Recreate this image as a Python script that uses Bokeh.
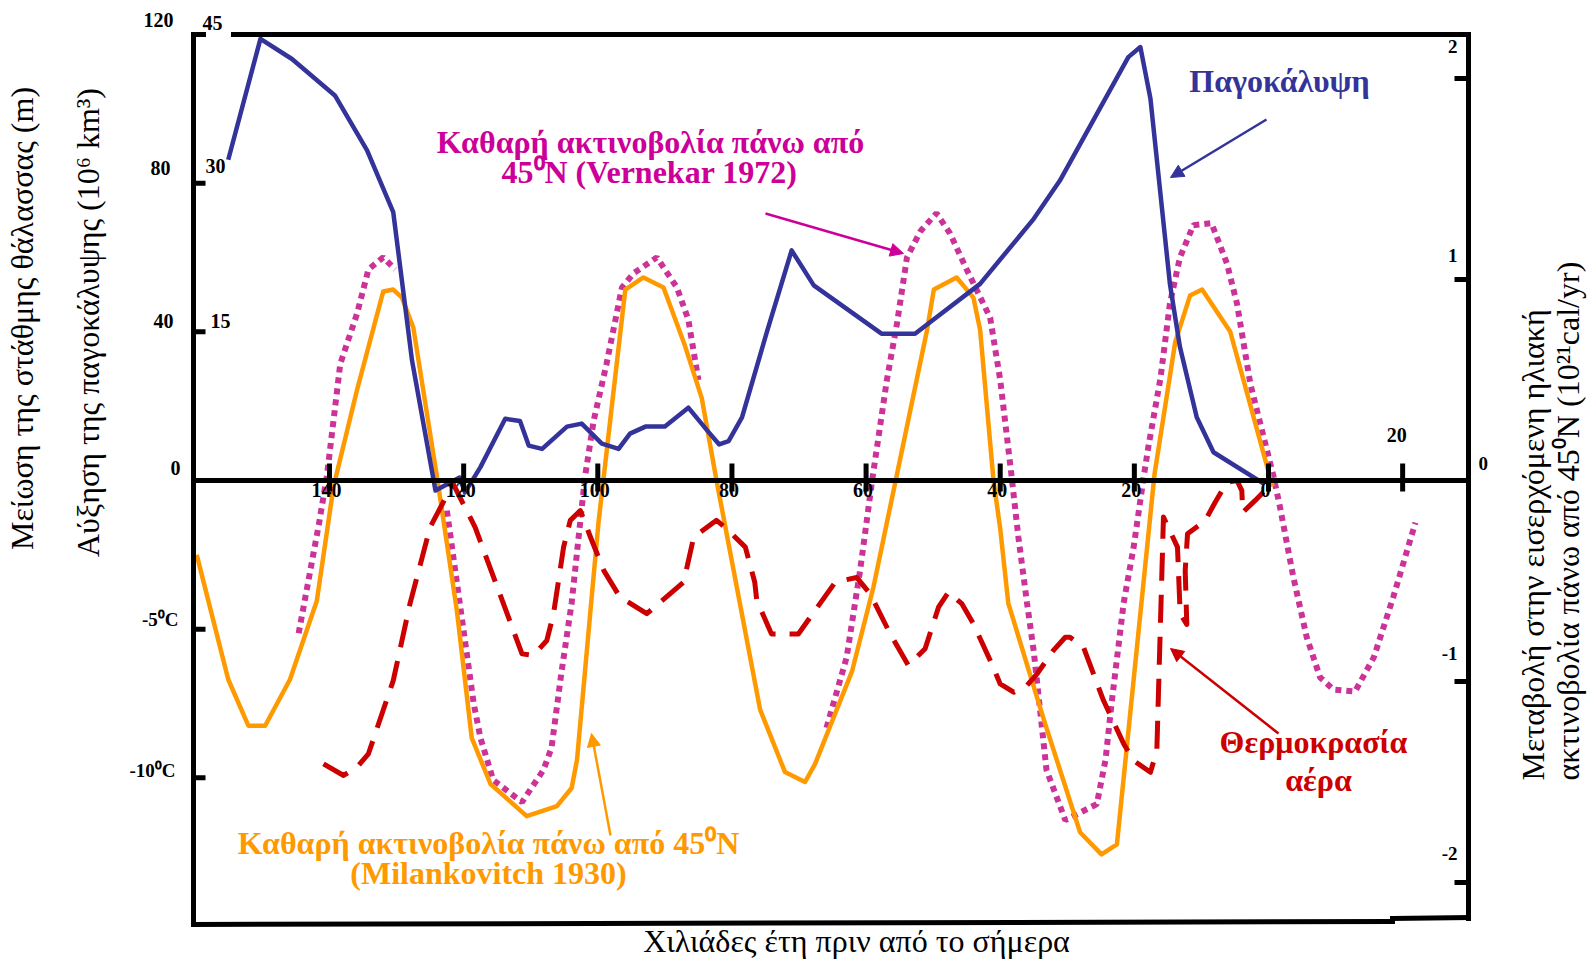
import math
from bokeh.plotting import figure
from bokeh.models import Range1d, Label, Arrow, NormalHead
from bokeh.core.properties import value
from bokeh.embed import file_html
from bokeh.resources import INLINE

nan = float("nan")

# ---------------- data (thousand years before present) ----------------
# Ice cover, plotted on the sea-level scale (m)
ice_kyr = [155.1, 150.3, 145.6, 139.2, 134.4, 130.5, 127.7, 124.2, 120.6, 119.8, 117.5,
           113.8, 111.6, 110.3, 108.3, 104.6, 102.4, 99.4, 96.9, 95.2, 92.9, 90.0, 86.5,
           83.7, 81.9, 80.5, 78.5, 74.8, 71.1, 67.8, 57.7, 52.7, 43.0, 35.0, 31.1, 20.9,
           19.1, 17.6, 14.7, 13.2, 10.7, 8.2, 0.6]
ice_sea = [86.3, 118.8, 113.4, 103.6, 88.8, 72.2, 32.3, -2.7, 0.8, -3.2, 3.6,
           16.6, 16.0, 9.4, 8.5, 14.5, 15.3, 9.9, 8.5, 12.6, 14.5, 14.5, 19.6,
           13.5, 9.7, 10.6, 17.0, 39.9, 61.9, 52.5, 39.5, 39.5, 52.9, 70.4, 80.7, 113.9,
           116.6, 102.7, 52.9, 35.9, 17.0, 7.6, -1.0]

# Net radiation above 45N (Milankovitch 1930), 10^21 cal/yr
mil_kyr = [159.8, 155.1, 152.1, 149.6, 145.9, 141.9, 139.4, 135.9, 132.0, 130.5, 129.2,
           127.5, 123.8, 121.0, 118.8, 116.0, 110.6, 106.1, 103.9, 103.1, 101.1, 99.9,
           97.7, 95.9, 93.2, 90.2, 87.0, 84.5, 82.3, 75.8, 72.1, 69.1, 67.6, 62.1, 58.9,
           55.4, 50.9, 49.9, 46.5, 44.0, 43.0, 41.0, 40.0, 38.8, 33.5, 28.1, 24.9, 22.6,
           17.0, 13.9, 11.7, 9.9, 5.7, -0.6]
mil_rad = [-0.37, -0.99, -1.22, -1.22, -0.99, -0.60, -0.03, 0.45, 0.94, 0.95, 0.91,
           0.76, -0.02, -0.65, -1.28, -1.51, -1.67, -1.62, -1.53, -1.39, -0.65, -0.21,
           0.43, 0.95, 1.01, 0.96, 0.67, 0.41, 0.0, -1.14, -1.45, -1.50, -1.41, -0.95, -0.53,
           0.03, 0.75, 0.95, 1.01, 0.91, 0.75, 0.0, -0.24, -0.61, -1.19, -1.75, -1.86, -1.81,
           0.03, 0.69, 0.92, 0.95, 0.74, -0.03]

# Net radiation above 45N (Vernekar 1972), 10^21 cal/yr  (nan = gap in the curve)
ver_kyr = [144.6, 141.6, 140.4, 138.4, 135.9, 134.2, 132.0, 130.2, nan,
           122.5, 118.5, 117.5, 115.6, 111.3, 108.1, 106.9, 105.4, 103.9, 102.6, 101.9,
           100.6, 98.7, 96.4, 94.7, 91.2, 88.2, 86.5, 85.0, nan,
           65.9, 62.9, 60.9, 59.1, 56.9, 55.4, 53.9, 51.9, 49.5, 47.5, 45.0, 41.5, 40.0,
           38.3, 37.3, 36.0, 35.0, 33.1, 30.3, 25.6, 24.3, 23.4, 21.6, 20.1, 18.6, 17.9,
           16.1, 14.7, 13.2, 11.2, 8.5, 6.2, 4.7, 2.7, -0.75, -1.7, -3.7, -5.7, -7.7,
           -9.7, -12.9, -15.7, -18.6, -21.9]
ver_rad = [-0.76, -0.22, 0.02, 0.58, 0.83, 1.05, 1.11, 1.05, nan,
           -0.15, -1.11, -1.28, -1.49, -1.60, -1.44, -1.33, -0.95, -0.61, -0.20, 0.02,
           0.30, 0.58, 0.96, 1.03, 1.11, 0.96, 0.80, 0.50, nan,
           -1.23, -0.88, -0.45, 0.0, 0.50, 0.78, 1.11, 1.24, 1.33, 1.23, 1.05, 0.81, 0.50,
           0.02, -0.28, -0.61, -0.85, -1.44, -1.69, -1.61, -1.39, -1.11, -0.61, -0.33, 0.02, 0.17,
           0.51, 0.88, 1.11, 1.27, 1.28, 1.08, 0.88, 0.48, 0.02, -0.13, -0.48, -0.78, -0.98,
           -1.04, -1.05, -0.88, -0.58, -0.21]

# Air temperature (deg C)
temp_kyr = [140.9, 137.9, 135.9, 134.2, 130.5, 128.0, 125.0, 123.3, 121.6, 118.3, 111.3,
            109.6, 107.6, 106.6, 105.1, 104.1, 102.6, 101.1, 99.1, 96.7, 92.7, 87.2, 85.7,
            82.3, 80.8, 78.0, 76.6, 76.3, 74.1, 70.1, 64.6, 61.4, 59.4, 56.4, 53.7, 51.2,
            49.2, 47.7, 45.7, 44.0, 41.5, 40.0, 38.0, 36.0, 34.5, 32.1, 30.3, 29.6, 27.6,
            24.6, 21.6, 20.1, 17.6, 16.65, 15.66, 13.57, 13.17, 12.18, 12.42, 12.07, 9.44,
            7.95, 6.2, 4.7, 3.98, 3.83, 1.98, 0.75]
temp_c = [-9.53, -9.92, -9.64, -9.19, -6.73, -4.14, -1.57, -0.84, -0.10, -1.57, -5.83,
          -5.88, -5.38, -4.48, -2.24, -1.34, -1.01, -1.90, -3.03, -3.92, -4.48, -3.42, -1.90,
          -1.34, -1.62, -2.24, -3.42, -4.03, -5.16, -5.16, -3.42, -3.26, -3.81, -5.16, -6.22, -5.66,
          -4.26, -3.75, -4.15, -4.82, -6.05, -6.84, -7.12, -6.89, -6.50, -5.72, -5.27, -5.27, -5.60,
          -7.40, -8.85, -9.42, -9.81, -9.08, -1.23, -2.24, -4.48, -4.84, -3.03, -1.79, -1.35,
          -0.73, -0.06, 0.0, -0.34, -1.07, -0.67, -0.39]

# ticks and tick labels
x_ticks = [140, 120, 100, 80, 60, 40, 20, 0, -20]
x_tick_labels = ["140", "120", "100", "80", "60", "40", "20", "0", "20"]
sea_ticks = [120, 80, 40, 0]
sea_tick_labels = ["120", "80", "40", "0"]
temp_ticks = [-5, -10]
temp_tick_labels = ["-5\u2070C", "-10\u2070C"]
ice_tick_labels = ["45", "30", "15"]
rad_ticks = [2, 1, 0, -1, -2]
rad_tick_labels = ["2", "1", "0", "-1", "-2"]

# ---------------- layout (page pixels) ----------------
W, H = 1594, 962
FL, FR, FT, FB = 193, 1468, 34, 921
X0, KX = 1268.0, 6.707      # pixel of 0 kyr, pixels per kyr
Y0, KR = 480.0, 201.0       # pixel of zero line, pixels per 10^21 cal/yr
KS = 3.717                  # pixels per metre of sea level
KT = KS * 8.0               # pixels per degree C (1 C = 8 m on the left scale)
BSHIFT = 0.38               # label baseline correction (fraction of font size)

def dx(X):
    return (X0 - X) / KX

def dy(Y):
    return (Y0 - Y) / KR

FONT = "Liberation Serif"

p = figure(width=W, height=H, title=None,
           x_range=Range1d(dx(0), dx(W)), y_range=Range1d(dy(H), dy(0)),
           x_axis_type=None, y_axis_type=None,
           output_backend="svg", toolbar_location=None,
           min_border_left=0, min_border_right=0, min_border_top=0, min_border_bottom=0)
p.extra_y_ranges = {
    "sea": Range1d((Y0 - H) / KS, Y0 / KS),
    "temp": Range1d((Y0 - H) / KT, Y0 / KT),
}
p.outline_line_color = None
p.background_fill_color = "white"
p.border_fill_color = "white"

# ---------------- curves ----------------
p.line(ver_kyr, ver_rad, line_color="#CC3399", line_width=6, line_dash="6 5", line_cap="butt")
p.line(mil_kyr, mil_rad, line_color="#FF9900", line_width=4.5, line_join="round")
p.line(ice_kyr, ice_sea, y_range_name="sea", line_color="#333399", line_width=4.5, line_join="round")
p.line(temp_kyr, temp_c, y_range_name="temp", line_color="#CC0000", line_width=5,
       line_dash="28 14", line_join="round")

# ---------------- frame, zero line and ticks ----------------
K = "black"
p.segment(x0=[dx(FL), dx(FR), dx(233), dx(FL), dx(FL), dx(1392)],
          y0=[dy(FT), dy(FT), dy(FT), dy(FT), dy(924), dy(918)],
          x1=[dx(FL), dx(FR), dx(FR), dx(203), dx(1392), dx(FR)],
          y1=[dy(924), dy(918), dy(FT), dy(FT), dy(921), dy(917)],
          line_color=K, line_width=5, line_cap="square")
p.segment(x0=[dx(FL)], y0=[0], x1=[dx(FR)], y1=[0], line_color=K, line_width=5)
p.segment(x0=x_ticks, y0=[dy(463)] * len(x_ticks), x1=x_ticks, y1=[dy(491)] * len(x_ticks),
          line_color=K, line_width=5)
left_vals = sea_ticks[1:] + [t * 8 for t in temp_ticks]
p.segment(x0=[dx(FL)] * len(left_vals), y0=left_vals, x1=[dx(FL + 12)] * len(left_vals),
          y1=left_vals, y_range_name="sea", line_color=K, line_width=5)
p.segment(x0=[dx(FR)] * len(rad_ticks), y0=rad_ticks, x1=[dx(FR - 14)] * len(rad_ticks),
          y1=rad_ticks, line_color=K, line_width=5)

# time tick labels
p.text(x=x_ticks[:-1], y=[dy(482)] * (len(x_ticks) - 1), text=x_tick_labels[:-1],
       text_font=value(FONT), text_font_style="bold", text_font_size="20px",
       text_align="center", text_baseline="top", x_offset=-3, text_color=K)
p.text(x=x_ticks[-1:], y=[dy(427)], text=x_tick_labels[-1:],
       text_font=value(FONT), text_font_style="bold", text_font_size="20px",
       text_align="center", text_baseline="top", x_offset=-6, text_color=K)

def lab(text, X, Y, size, color=K, bold=True, align="center", angle=0.0):
    # X, Y: wanted baseline anchor in page pixels
    if angle == 0.0:
        Y = Y - BSHIFT * size
    else:
        X = X - BSHIFT * size
    p.add_layout(Label(x=dx(X), y=dy(Y), text=text, text_font=FONT,
                       text_font_style="bold" if bold else "normal",
                       text_font_size=f"{size}px", text_color=color,
                       text_align=align, text_baseline="alphabetic", angle=angle))

# left tick labels
for t, X, Y in zip(sea_tick_labels, [173, 170, 173, 180], [27, 175, 328, 475]):
    lab(t, X, Y, 20, align="right")
for t, X, Y in zip(temp_tick_labels, [178, 175], [626, 777]):
    lab(t, X, Y, 19, align="right")
for t, X, Y in zip(ice_tick_labels, [202, 205, 210], [30, 173, 328]):
    lab(t, X, Y, 20, align="left")

# right tick labels (inside the frame, above each tick; 0 outside)
for t, Y in zip(rad_tick_labels, [53, 262, 470, 660, 860]):
    if t == "0":
        lab(t, 1478, Y, 19, align="left")
    else:
        lab(t, 1457, Y, 19, align="right")

# axis titles
lab("Μείωση της στάθμης θάλασσας (m)", 34, 318, 32, bold=False, angle=math.pi / 2)
lab("Αύξηση της παγοκάλυψης (10\u2076 km\u00b3)", 100, 322, 32, bold=False, angle=math.pi / 2)
lab("Μεταβολή στην εισερχόμενη ηλιακή", 1545, 780, 32, bold=False, align="left", angle=math.pi / 2)
lab("ακτινοβολία πάνω από 45\u2070N (10\u00b2\u00b9cal/yr)", 1580, 780, 32, bold=False,
    align="left", angle=math.pi / 2)
lab("Χιλιάδες έτη πριν από το σήμερα", 856, 953, 32, bold=False)

# curve annotations
MAG, ORA, BLU, RED = "#CC0099", "#FF9900", "#333399", "#CC0000"
lab("Καθαρή ακτινοβολία πάνω από", 650, 154, 32, color=MAG)
lab("45\u2070N (Vernekar 1972)", 649, 184, 32, color=MAG)
lab("Καθαρή ακτινοβολία πάνω από 45\u2070N", 488, 855, 32, color=ORA)
lab("(Milankovitch 1930)", 488, 885, 32, color=ORA)
lab("Παγοκάλυψη", 1279, 93, 32, color=BLU)
lab("Θερμοκρασία", 1313, 754, 32, color=RED)
lab("αέρα", 1318, 792, 32, color=RED)

def arrow(X1, Y1, X2, Y2, color):
    p.add_layout(Arrow(end=NormalHead(size=13, fill_color=color, line_color=color, line_width=1),
                       x_start=dx(X1), y_start=dy(Y1), x_end=dx(X2), y_end=dy(Y2),
                       line_color=color, line_width=2.5))

arrow(765, 213, 903, 253, MAG)
arrow(1266, 119, 1170, 177, BLU)
arrow(1278, 733, 1170, 648, RED)
arrow(610, 835, 591, 733, ORA)

with open("out.html", "w") as f:
    f.write(file_html(p, INLINE))
